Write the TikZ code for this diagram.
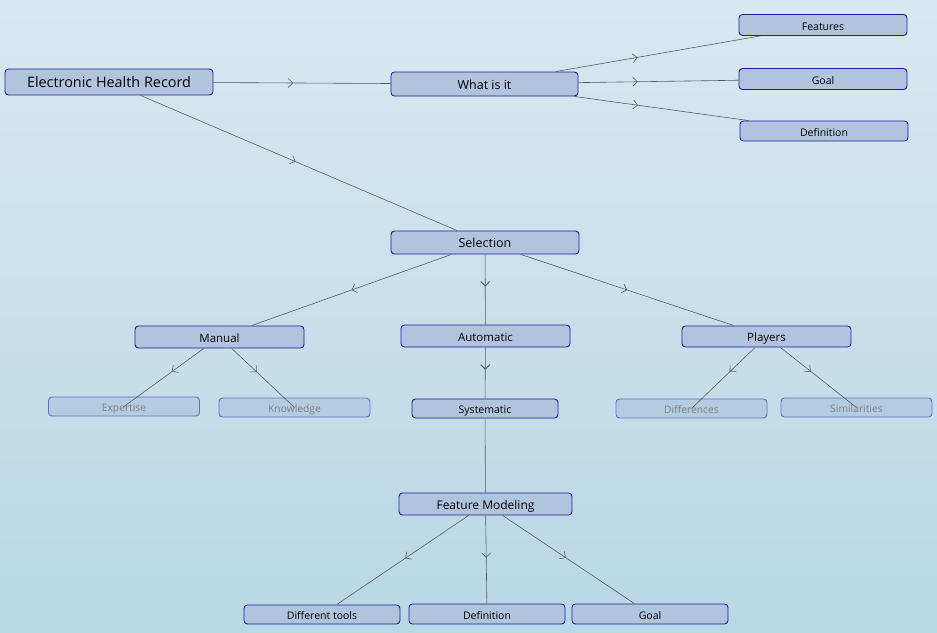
\documentclass[tikz,border=0pt]{standalone}
\usepackage{fontspec}
\setmainfont{Open Sans}
\usetikzlibrary{arrows.meta,decorations.markings}
\definecolor{bgtop}{HTML}{D8E8F0}
\definecolor{bgbot}{HTML}{B9D7E5}
\definecolor{nfill}{HTML}{B0C4DE}
\definecolor{nborder}{HTML}{1C1CA0}
\definecolor{edgec}{HTML}{555B63}
\begin{document}
\begin{tikzpicture}[x=1pt,y=-1pt,
 box/.style={draw=nborder, fill=nfill, rounded corners=3.5pt, line width=0.9pt, inner sep=0pt, text=black, text height=1.05em, text depth=0.05em},
 faded/.style={draw=nborder!55!bgbot, fill=nfill!60!bgbot, rounded corners=3.5pt, line width=0.9pt, inner sep=0pt, text=black!50, text height=1.05em, text depth=0.05em, minimum width=151pt, minimum height=19pt, font=\fontsize{10.3}{12}\selectfont},
 big/.style={font=\fontsize{14.4}{16}\selectfont},
 mid/.style={font=\fontsize{12.5}{14}\selectfont},
 midb/.style={font=\fontsize{11.5}{13}\selectfont},
 small/.style={font=\fontsize{10.5}{12}\selectfont},
 conn/.style={draw=edgec, line width=0.6pt},
 midarr/.style={postaction={decorate}, decoration={markings, mark=at position #1 with {\arrow{Straight Barb[length=4.5pt,width=9pt,line width=0.6pt]}}}},
 midarrb/.style={postaction={decorate}, decoration={markings, mark=at position #1 with {\arrow{Straight Barb[length=4.5pt,width=9pt,line width=1pt]}}}},
]
\shade[top color=bgtop, bottom color=bgbot] (0,0) rectangle (937,632);

\node[box, big, minimum width=208pt, minimum height=26pt] (ehr) at (109,82) {Electronic Health Record};
\node[box, mid, minimum width=187pt, minimum height=24pt] (what) at (484.5,84) {What is it};
\node[box, small, minimum width=168pt, minimum height=21pt] (feat) at (823,25) {Features};
\node[box, small, minimum width=168pt, minimum height=21pt] (goal1) at (823,79) {Goal};
\node[box, small, minimum width=168pt, minimum height=20pt] (def1) at (824,131) {Definition};

\node[box, mid, minimum width=188pt, minimum height=23pt] (sel) at (485,242.5) {Selection};
\node[box, midb, minimum width=169pt, minimum height=22pt] (man) at (219.5,337) {Manual};
\node[box, midb, minimum width=169pt, minimum height=22pt] (auto) at (485.5,336) {Automatic};
\node[box, midb, minimum width=169pt, minimum height=21pt] (play) at (766.5,336.5) {Players};

\node[faded] (exp) at (124,406.5) {Expertise};
\node[faded] (know) at (294.5,407.5) {Knowledge};
\node[box, small, minimum width=146pt, minimum height=19pt] (sys) at (485,408.5) {Systematic};
\node[faded] (diff) at (691.5,408.5) {Differences};
\node[faded] (sim) at (856.5,407.5) {Similarities};

\node[box, mid, font=\fontsize{12}{14}\selectfont, minimum width=173pt, minimum height=22pt] (fm) at (485.5,504) {Feature Modeling};
\node[box, small, minimum width=156pt, minimum height=19pt] (tools) at (322,614.5) {Different tools};
\node[box, small, minimum width=156pt, minimum height=20pt] (def2) at (487,614) {Definition};
\node[box, small, minimum width=156pt, minimum height=20pt] (goal2) at (650,614) {Goal};

\draw[conn, midarr=0.45] (ehr) -- (what);
\draw[conn, midarr=0.49] (ehr) -- (sel);
\draw[conn, midarr=0.40] (what) -- (feat);
\draw[conn, midarr=0.37] (what) -- (goal1);
\draw[conn, midarr=0.365] (what) -- (def1);
\draw[conn, midarr=0.5] (sel) -- (man);
\draw[conn, midarrb=0.46] (sel) -- (auto);
\draw[conn, midarr=0.5] (sel) -- (play);
\draw[conn, midarr=0.4] (man) -- (exp.center);
\draw[conn, midarr=0.4] (man) -- (know.center);
\draw[conn, midarrb=0.44] (auto) -- (sys);
\draw[conn, midarr=0.4] (play) -- (diff.center);
\draw[conn, midarr=0.4] (play) -- (sim.center);
\draw[conn] (sys) -- (fm);
\draw[conn, midarr=0.48] (fm) -- (tools);
\draw[conn, midarr=0.48] (fm) -- (def2);
\draw[conn, midarr=0.48] (fm) -- (goal2);
\end{tikzpicture}
\end{document}
